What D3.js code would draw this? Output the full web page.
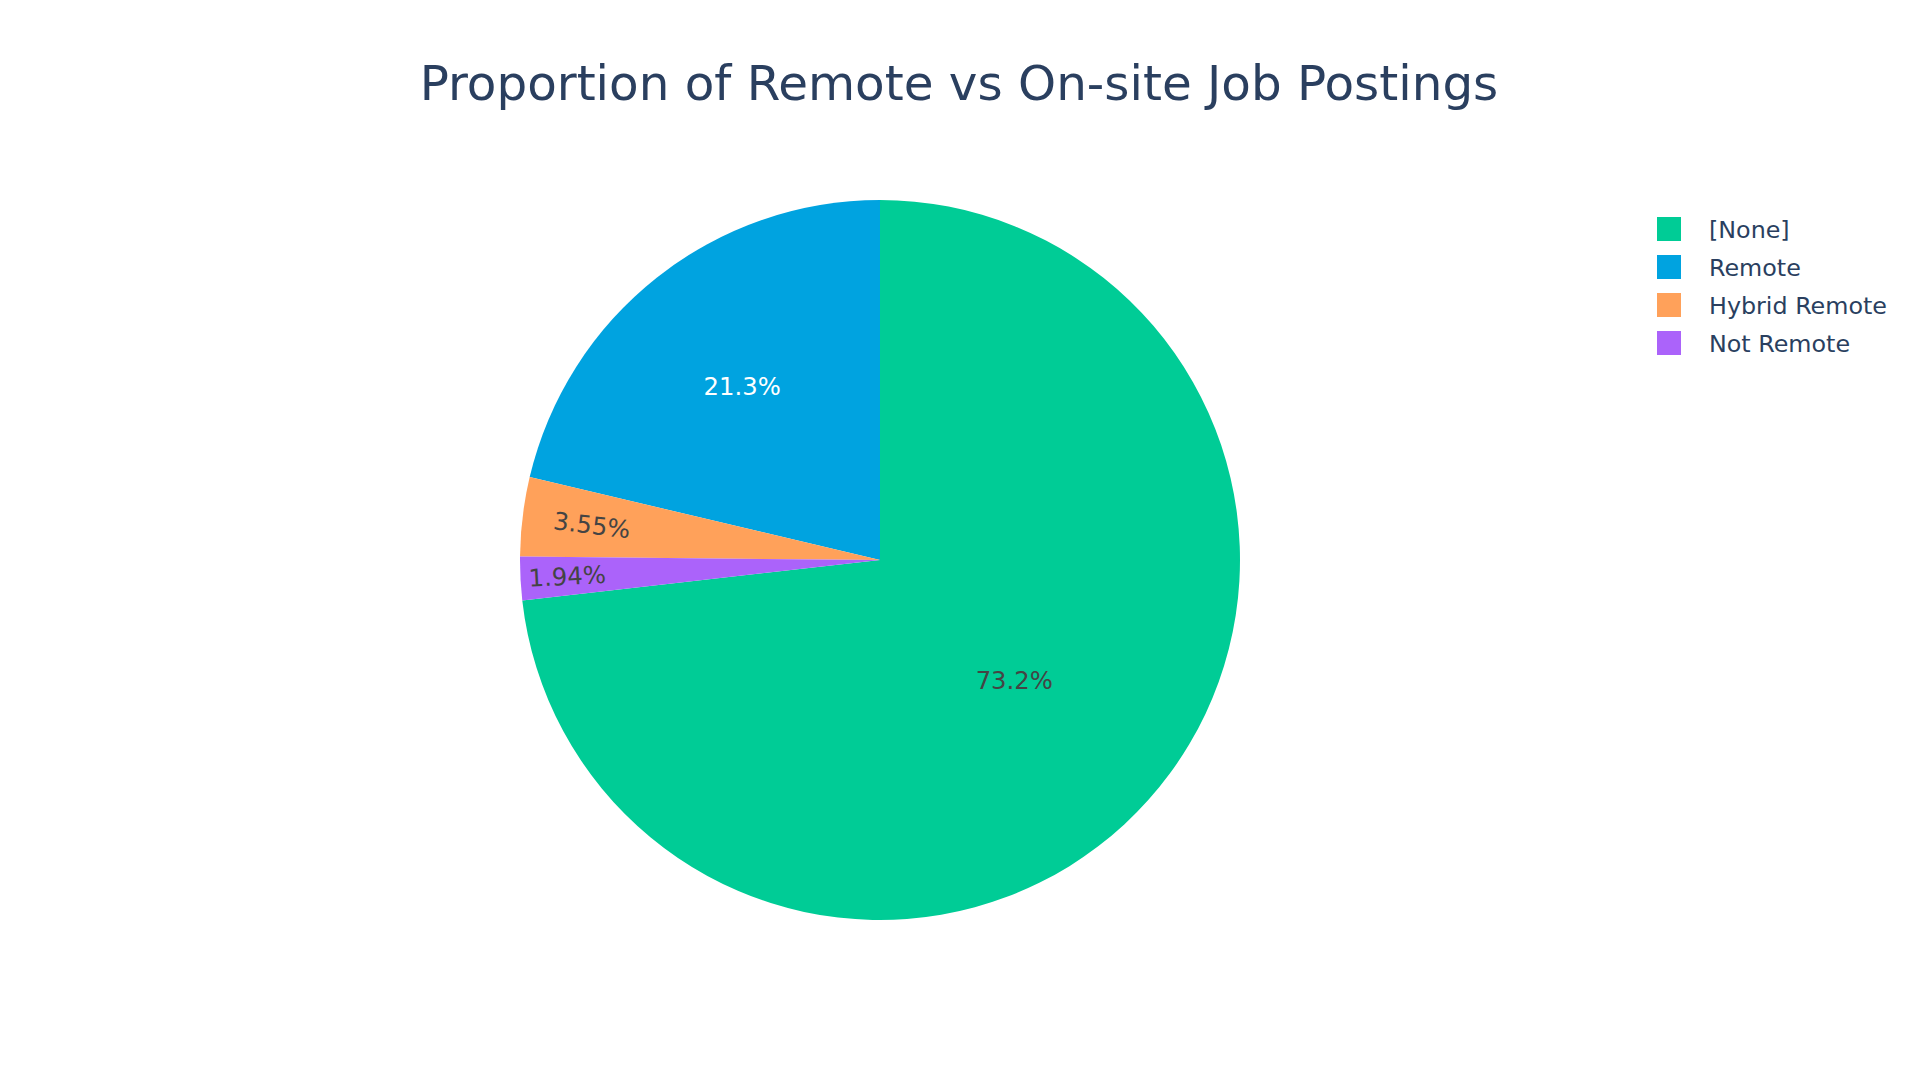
<!DOCTYPE html>
<html>
<head>
	<title>Remote vs On-site</title>
	<script src="https://d3js.org/d3.v7.min.js"></script>
	<style>
		body { margin: 0; background: #fff; }
		text { font-family: "DejaVu Sans", Verdana, sans-serif; }
	</style>
</head>
<body>
	<div id="chart"></div>
<script type="text/javascript">

	// data (percent of postings)
	var categories = ["[None]", "Remote", "Hybrid Remote", "Not Remote"];
	var shares = [73.21, 21.30, 3.55, 1.94];
	var labels = ["73.2%", "21.3%", "3.55%", "1.94%"];
	var colors = ["#00CC96", "#00A3E0", "#FFA15A", "#AB63FA"];
	var labelColors = ["#444444", "#ffffff", "#444444", "#444444"];

	var w = 1920;
	var h = 1080;
	var cx = 880, cy = 560, R = 360;

	var svg = d3.select("#chart")
		.append("svg")
		.attr("width", w)
		.attr("height", h);

	svg.append("text")
		.attr("x", w / 2 - 1)
		.attr("y", 100)
		.attr("text-anchor", "middle")
		.attr("font-size", "48.4px")
		.attr("fill", "#2a3f5f")
		.text("Proportion of Remote vs On-site Job Postings");

	var total = d3.sum(shares);
	// first slice ends at 12 o'clock, slices run counterclockwise
	var start = shares[0] / total * 2 * Math.PI;
	var pie = d3.pie()
		.sort(null)
		.startAngle(start)
		.endAngle(start - 2 * Math.PI);

	var arc = d3.arc().innerRadius(0).outerRadius(R);
	var arcs = pie(shares);

	var g = svg.append("g").attr("transform", "translate(" + cx + "," + cy + ")");

	g.selectAll("path")
		.data(arcs)
		.enter()
		.append("path")
		.attr("d", arc)
		.attr("fill", function(d, i) { return colors[i]; });

	// where the text goes: wide slices near the middle, thin ones pushed out and turned radial
	function labelFrac(d) {
		var span = Math.abs(d.endAngle - d.startAngle);
		if (span > Math.PI) return 0.5;
		if (span > 1) return 0.617;
		if (span > 0.18) return 0.806;
		return 0.87;
	}

	g.selectAll("text.lbl")
		.data(arcs)
		.enter()
		.append("text")
		.attr("class", "lbl")
		.attr("transform", function(d) {
			var a = (d.startAngle + d.endAngle) / 2;
			var r = R * labelFrac(d);
			var x = r * Math.sin(a), y = -r * Math.cos(a);
			var span = Math.abs(d.endAngle - d.startAngle);
			var rot = span < 0.5 ? a * 180 / Math.PI + 90 : 0;
			return "translate(" + x + "," + y + ") rotate(" + rot + ")";
		})
		.attr("dy", "0.36em")
		.attr("text-anchor", "middle")
		.attr("font-size", "24.3px")
		.attr("fill", function(d, i) { return labelColors[i]; })
		.text(function(d, i) { return labels[i]; });

	// legend
	var y = d3.scaleBand().domain(categories).range([210, 362]);

	var leg = svg.append("g");
	leg.selectAll("rect")
		.data(categories)
		.enter()
		.append("rect")
		.attr("x", 1657)
		.attr("y", function(d) { return y(d) + y.bandwidth() / 2 - 12; })
		.attr("width", 24)
		.attr("height", 24)
		.attr("fill", function(d, i) { return colors[i]; });

	leg.selectAll("text")
		.data(categories)
		.enter()
		.append("text")
		.attr("x", 1709)
		.attr("y", function(d) { return y(d) + y.bandwidth() / 2; })
		.attr("dy", "0.36em")
		.attr("font-size", "23.8px")
		.attr("fill", "#2a3f5f")
		.text(function(d) { return d; });

</script>
</body>
</html>
